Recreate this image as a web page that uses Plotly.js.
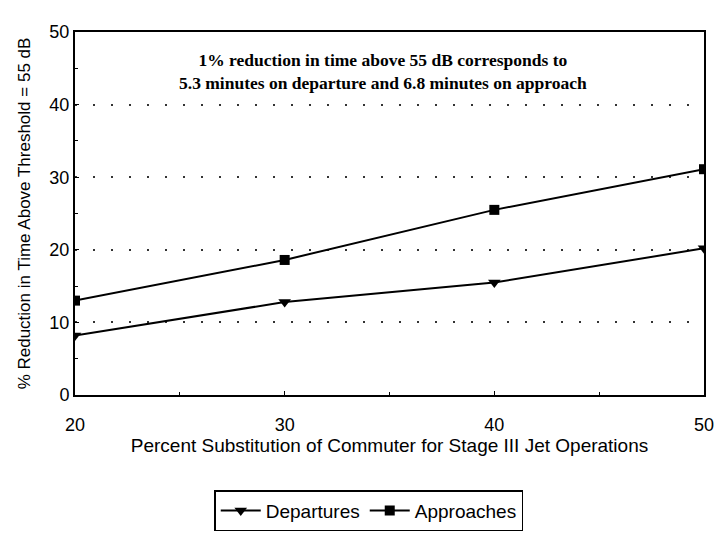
<!DOCTYPE html>
<html><head><meta charset="utf-8">
<script src="https://cdn.plot.ly/plotly-3.0.1.min.js"></script>
<style>body{margin:0;background:#fff}#c{width:714px;height:544px}</style>
</head><body><div id="c"></div>
<script>
const xVals = [20, 30, 40, 50];
const departures = [8.2, 12.8, 15.5, 20.2];
const approaches = [13.0, 18.6, 25.5, 31.1];
const xTitle = "Percent Substitution of Commuter for Stage III Jet Operations";
const yTitle = "% Reduction in Time Above Threshold = 55 dB";
const note = "1% reduction in time above 55 dB corresponds to<br>5.3 minutes on departure and 6.8 minutes on approach";

const sans = "Liberation Sans, Arial, sans-serif";
const traces = [
  {x: xVals, y: departures, name: "Departures", mode: "lines+markers",
   line: {color: "#000", width: 2},
   marker: {symbol: "triangle-down", size: 11, color: "#000"}},
  {x: xVals, y: approaches, name: "Approaches", mode: "lines+markers",
   line: {color: "#000", width: 2},
   marker: {symbol: "square", size: 10, color: "#000"}}
];
const layout = {
  width: 714, height: 544,
  margin: {l: 75, r: 10, t: 32, b: 149},
  paper_bgcolor: "#fff", plot_bgcolor: "#fff",
  showlegend: true,
  legend: {orientation: "h", x: 0.467, xanchor: "center", y: -0.262, yanchor: "top",
    bordercolor: "#000", borderwidth: 1.5, font: {family: sans, size: 19, color: "#000"},
    bgcolor: "#fff", itemwidth: 40},
  xaxis: {range: [20, 50], tickvals: [20, 30, 40, 50], showgrid: false, zeroline: false,
    showline: true, linecolor: "#000", linewidth: 2, mirror: true,
    ticks: "inside", ticklen: 4, tickcolor: "#000", ticklabelstandoff: 12,
    ticklabeloverflow: "allow",
    minor: {tickvals: [25, 35, 45], ticks: "inside", ticklen: 3, tickcolor: "#000"},
    tickfont: {family: sans, size: 18, color: "#000"},
    title: {text: xTitle, font: {family: sans, size: 19, color: "#000"}, standoff: 4}},
  yaxis: {range: [0, 50], tickvals: [0, 10, 20, 30, 40, 50], showgrid: true,
    gridcolor: "#333", griddash: "2px,16px", gridwidth: 1.5, zeroline: false,
    showline: true, linecolor: "#000", linewidth: 2, mirror: true,
    ticks: "inside", ticklen: 4, tickcolor: "#000",
    minor: {tickvals: [5, 15, 25, 35, 45], ticks: "inside", ticklen: 3, tickcolor: "#000", showgrid: false},
    tickfont: {family: sans, size: 18, color: "#000"},
    title: {text: yTitle, font: {family: sans, size: 17, color: "#000"}, standoff: 14}},
  annotations: [{xref: "paper", yref: "paper", x: 0.49, y: 0.955, xanchor: "center", yanchor: "top",
    showarrow: false, text: "<b>" + note.replace("<br>", "</b><br><b>") + "</b>", align: "center",
    font: {family: "Liberation Serif, Times New Roman, serif", size: 17.5, color: "#000"}}]
};
Plotly.newPlot("c", traces, layout, {displayModeBar: false});
</script></body></html>
